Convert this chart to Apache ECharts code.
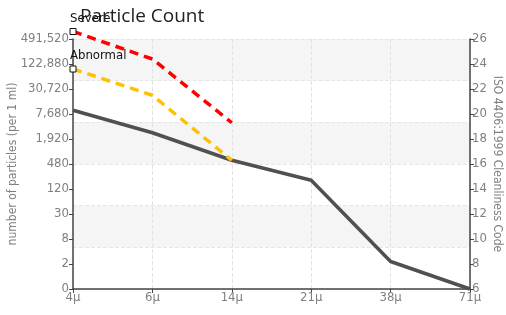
<!doctype html>
<html>
<head>
<meta charset="UTF-8">
<title>Particle Count</title>
<script src="https://cdn.jsdelivr.net/npm/echarts@6/dist/echarts.min.js"></script>
<style type="text/css">
	html,body{margin:0;padding:0;background:#fff;}
	#main{width:506px;height:315px;}
</style>
</head>
<body>
<div id="main"></div>
<script type="text/javascript">
	// sizes (x axis)
	var sizes = ['4\u03bc', '6\u03bc', '14\u03bc', '21\u03bc', '38\u03bc', '71\u03bc'];
	// ISO codes on the right, particle counts shown on the left
	var codeTicks = [6, 8, 10, 12, 14, 16, 18, 20, 22, 24, 26];
	var countLabels = ['0', '2', '8', '30', '120', '480', '1,920', '7,680', '30,720', '122,880', '491,520'];
	// series values (as ISO code)
	var measured = [20.3, 18.5, 16.3, 14.7, 8.2, 6];
	var abnormal = [23.6, 21.5, 16.3, null, null, null];
	var severe = [26.6, 24.4, 19.3, null, null, null];

	var font = "'DejaVu Sans Condensed', Roboto, sans-serif";
	var grey = '#808080';

	function countOf(v){
		var i = codeTicks.indexOf(v);
		return i < 0 ? '' : countLabels[i];
	}

	var myChart = echarts.init(document.getElementById('main'));
	var option = {
		animation:false,
		title:{
			text:'Particle Count',
			left:75, top:2,
			textStyle:{fontFamily:'Open Sans', fontSize:19, fontWeight:'normal', color:'#222'}
		},
		grid:{left:73, right:36, top:39, bottom:26, outerBoundsMode:'none', containLabel:false},
		xAxis:{
			type:'category',
			data:sizes,
			boundaryGap:false,
			axisLine:{lineStyle:{color:'#444', width:1.5}},
			axisTick:{show:true, length:4, lineStyle:{color:'#444'}},
			axisLabel:{color:grey, fontFamily:font, fontSize:13, margin:2},
			splitLine:{show:true, lineStyle:{color:'#e2e2e2', type:'dashed'}}
		},
		yAxis:[
			{
				type:'value', min:6, max:26, interval:2, position:'left',
				name:'number of particles (per 1 ml)',
				nameLocation:'middle', nameGap:54, nameRotate:90, nameMoveOverlap:false,
				nameTextStyle:{color:grey, fontFamily:font, fontSize:12},
				axisLine:{show:true, lineStyle:{color:'#444', width:1.5}},
				axisTick:{show:true, length:4, lineStyle:{color:'#444'}},
				axisLabel:{color:grey, fontFamily:font, fontSize:13, margin:4, formatter:countOf},
				splitLine:{show:false}
			},
			{
				type:'value', min:6, max:26, interval:2, position:'right',
				name:'ISO 4406:1999 Cleanliness Code',
				nameLocation:'middle', nameGap:21, nameRotate:-90, nameMoveOverlap:false,
				nameTextStyle:{color:grey, fontFamily:font, fontSize:12},
				axisLine:{show:true, lineStyle:{color:'#444', width:1.5}},
				axisTick:{show:true, length:4, lineStyle:{color:'#444'}},
				axisLabel:{color:grey, fontFamily:font, fontSize:13, margin:2},
				splitLine:{show:false}
			},
			{
				// background bands only
				type:'value', min:0, max:6, interval:1, position:'left',
				axisLine:{show:false}, axisTick:{show:false}, axisLabel:{show:false},
				splitLine:{show:true, lineStyle:{color:'#e6e6e6', type:'dashed'}},
				splitArea:{show:true, areaStyle:{color:['rgba(255,255,255,0)', '#f5f5f5']}}
			}
		],
		series:[
			{
				name:'Measured', type:'line', data:measured, yAxisIndex:1,
				symbol:'none', clip:false, z:3,
				lineStyle:{color:'#505050', width:3.5}
			},
			{
				name:'Abnormal', type:'line', yAxisIndex:1, clip:false, z:4,
				data:abnormal.map(function(v, i){
					if(i == 0) return {value:v, symbol:'rect', symbolSize:6,
						label:{show:true, formatter:'Abnormal'}};
					return v;
				}),
				symbol:'none',
				itemStyle:{color:'#fff', borderColor:'#111', borderWidth:1},
				label:{position:'top', align:'left', offset:[-3, 2], color:'#111', fontFamily:font, fontSize:13},
				lineStyle:{color:'#ffc000', width:3.5, type:[9, 6]}
			},
			{
				name:'Severe', type:'line', yAxisIndex:1, clip:false, z:4,
				data:severe.map(function(v, i){
					if(i == 0) return {value:v, symbol:'rect', symbolSize:6,
						label:{show:true, formatter:'Severe'}};
					return v;
				}),
				symbol:'none',
				itemStyle:{color:'#fff', borderColor:'#111', borderWidth:1},
				label:{position:'top', align:'left', offset:[-3, 2], color:'#111', fontFamily:font, fontSize:13},
				lineStyle:{color:'#ff0000', width:3.5, type:[9, 6]}
			}
		]
	};
	myChart.setOption(option);
</script>
</body>
</html>
